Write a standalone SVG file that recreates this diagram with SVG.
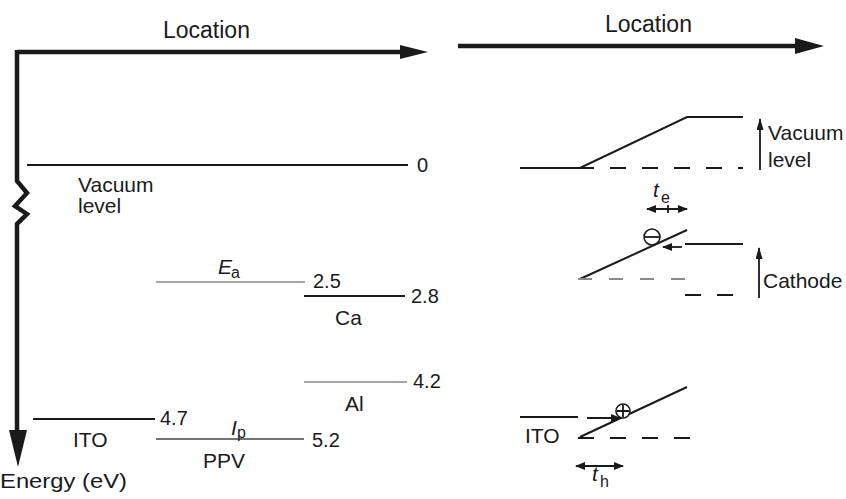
<svg xmlns="http://www.w3.org/2000/svg" width="846" height="499" viewBox="0 0 846 499">
  <style>
    text { font-family: "Liberation Sans", Arial, sans-serif; fill: #1a1a1a; }
    .lbl { font-size: 21px; }
    .num { font-size: 20px; }
    .big { font-size: 23px; }
    .it { font-style: italic; }
    .sub { font-size: 16px; }
    .axis { stroke: #1a1a1a; stroke-width: 4.5; fill: none; }
    .lvl { stroke: #1a1a1a; stroke-width: 2; fill: none; }
    .lvlg { stroke: #8a8a8a; stroke-width: 1.6; fill: none; }
    .lvld { stroke: #444; stroke-width: 1.6; fill: none; }
    .dash { stroke: #1a1a1a; stroke-width: 1.8; stroke-dasharray: 16 16; fill: none; }
    .dashg { stroke: #8a8a8a; stroke-width: 1.8; stroke-dasharray: 14 17; fill: none; }
    .thin { stroke: #1a1a1a; stroke-width: 1.8; fill: none; }
    .head { fill: #1a1a1a; }
  </style>
  <defs>
    <marker id="ah" viewBox="0 0 10 8" refX="9" refY="4" markerWidth="10" markerHeight="8" markerUnits="userSpaceOnUse" orient="auto-start-reverse">
      <path d="M0,0 L10,4 L0,8 z" fill="#1a1a1a"/>
    </marker>
    <marker id="ahs" viewBox="0 0 12 7" refX="11" refY="3.5" markerWidth="12" markerHeight="7" markerUnits="userSpaceOnUse" orient="auto-start-reverse">
      <path d="M0,0 L12,3.5 L0,7 z" fill="#1a1a1a"/>
    </marker>
  </defs>

  <!-- left panel: energy axis and location axis -->
  <g id="axes-left">
    <path class="axis" d="M17,52 H402"/>
    <polygon class="head" points="400,45 428,52 400,59"/>
    <path class="axis" d="M17,50 V181 L27,193 L15,206 L27,214 L17,224 V432"/>
    <polygon class="head" points="9,430 27,430 18,467"/>
    <text class="big" x="163" y="38">Location</text>
    <text class="lbl" x="0" y="488" textLength="127" lengthAdjust="spacingAndGlyphs">Energy (eV)</text>
  </g>

  <g id="vacuum-level">
    <path class="lvl" d="M27,165 H408"/>
    <text class="num" x="417" y="172">0</text>
    <text class="lbl" x="78" y="192">Vacuum</text>
    <text class="lbl" x="78" y="213">level</text>
  </g>

  <g id="ppv-lumo">
    <path class="lvlg" d="M156,282 H305"/>
    <text class="lbl it" x="218" y="274" font-size="19">E</text>
    <text class="sub" x="231" y="278">a</text>
    <text class="num" x="313" y="288">2.5</text>
  </g>

  <g id="ca">
    <path class="lvl" d="M304,296 H405"/>
    <text class="num" x="411" y="303">2.8</text>
    <text class="lbl" x="335" y="325">Ca</text>
  </g>

  <g id="al">
    <path class="lvlg" d="M304,382 H407"/>
    <text class="num" x="413" y="388">4.2</text>
    <text class="lbl" x="345" y="411">Al</text>
  </g>

  <g id="ito">
    <path class="lvl" d="M33,419 H155"/>
    <text class="num" x="160" y="425">4.7</text>
    <text class="lbl" x="73" y="447">ITO</text>
  </g>

  <g id="ppv-homo">
    <path class="lvld" d="M156,439 H304"/>
    <text class="lbl it" x="231" y="435" font-size="19">I</text>
    <text class="sub" x="237" y="438">p</text>
    <text class="num" x="312" y="447">5.2</text>
    <text class="lbl" x="203" y="468">PPV</text>
  </g>

  <!-- right panel: interface shifts -->
  <g id="axis-right">
    <path class="axis" d="M458,46 H797"/>
    <polygon class="head" points="795,38 824,46 795,54"/>
    <text class="big" x="605" y="32">Location</text>
  </g>

  <g id="vacuum-shift">
    <path class="lvl" d="M520,168 H580 L687,117 H743"/>
    <path class="dash" d="M578,168 H743"/>
    <text class="lbl" x="768" y="140" font-size="19">Vacuum</text>
    <text class="lbl" x="768" y="167" font-size="19">level</text>
  </g>

  <g id="cathode-shift">
    <path class="lvl" d="M580,279 L687,230"/>
    <path class="lvl" d="M685,244 H743"/>
    <path class="dashg" d="M578,279 H690"/>
    <path class="dash" d="M685,295 H735"/>
    <circle cx="652" cy="237" r="8" fill="#fff" stroke="#1a1a1a" stroke-width="1.6"/>
    <path class="thin" d="M645,237 H659"/>
    <text class="lbl" x="763" y="288">Cathode</text>
  </g>

  <g id="ito-shift">
    <path class="lvl" d="M580,437 L687,387"/>
    <path class="lvl" d="M520,417 H578"/>
    <path class="dash" d="M578,438 H690"/>
    <circle cx="623" cy="411" r="7" fill="#fff" stroke="#1a1a1a" stroke-width="1.6"/>
    <path class="thin" d="M617,411 H629 M623,405 V417"/>
    <text class="lbl" x="525" y="443">ITO</text>
  </g>

  <g id="widths">
    <text class="lbl it" x="653" y="197">t</text>
    <text class="sub" x="661" y="203">e</text>
    <text class="lbl it" x="592" y="481">t</text>
    <text class="sub" x="600" y="487">h</text>
  </g>

  <!-- connectors: shift arrows and width markers -->
  <g id="connectors">
    <path class="thin" stroke-width="2" d="M760,170 V119" marker-end="url(#ahs)"/>
    <path class="thin" stroke-width="2" d="M759,298 V248" marker-end="url(#ahs)"/>
    <path class="thin" stroke-width="2.5" d="M682,247 H663" marker-end="url(#ah)"/>
    <path class="thin" stroke-width="2.5" d="M587,418 H620" marker-end="url(#ah)"/>
    <path class="thin" d="M647,209 H687" marker-start="url(#ah)" marker-end="url(#ah)"/>
    <path class="thin" d="M668,205 V213"/>
    <path class="thin" d="M576,466 H623" marker-start="url(#ah)" marker-end="url(#ah)"/>
  </g>
</svg>
